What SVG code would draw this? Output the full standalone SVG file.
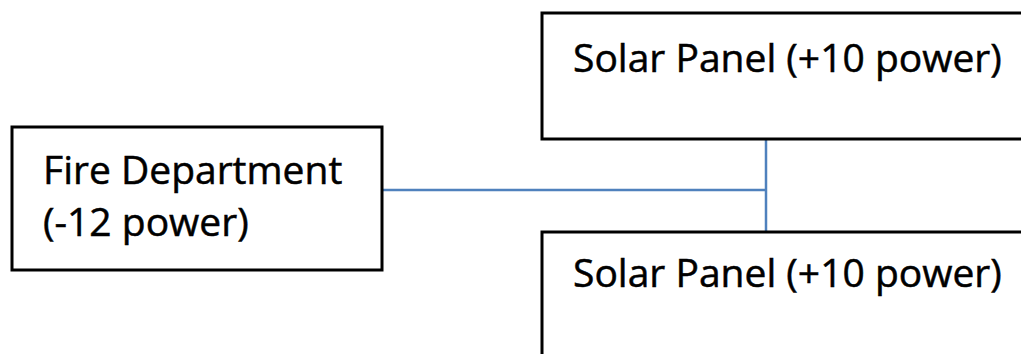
<svg xmlns="http://www.w3.org/2000/svg" width="1021" height="354" viewBox="0 0 1021 354">
<style>
.box{fill:#fff;stroke:#000;stroke-width:3}
.t{font-family:"Open Sans","Liberation Sans",sans-serif;font-size:39px;fill:#000;stroke:#000;stroke-width:0.5}
.c{fill:none;stroke:#4f81bd;stroke-width:2.5}
</style>
<rect width="1021" height="354" fill="#fff"/>
<g id="connectors">
<line class="c" x1="382" y1="190" x2="766" y2="190"/>
<line class="c" x1="766" y1="139" x2="766" y2="232"/>
</g>
<g id="fire">
<rect class="box" x="12" y="127" width="370" height="143"/>
<text class="t" x="43" y="184">Fire Department</text>
<text class="t" x="43" y="236">(-12 power)</text>
</g>
<g id="solar1">
<rect class="box" x="542" y="13" width="500" height="126"/>
<text class="t" x="573" y="72">Solar Panel (+10 power)</text>
</g>
<g id="solar2">
<rect class="box" x="542" y="232" width="500" height="150"/>
<text class="t" x="573" y="287">Solar Panel (+10 power)</text>
</g>
</svg>
